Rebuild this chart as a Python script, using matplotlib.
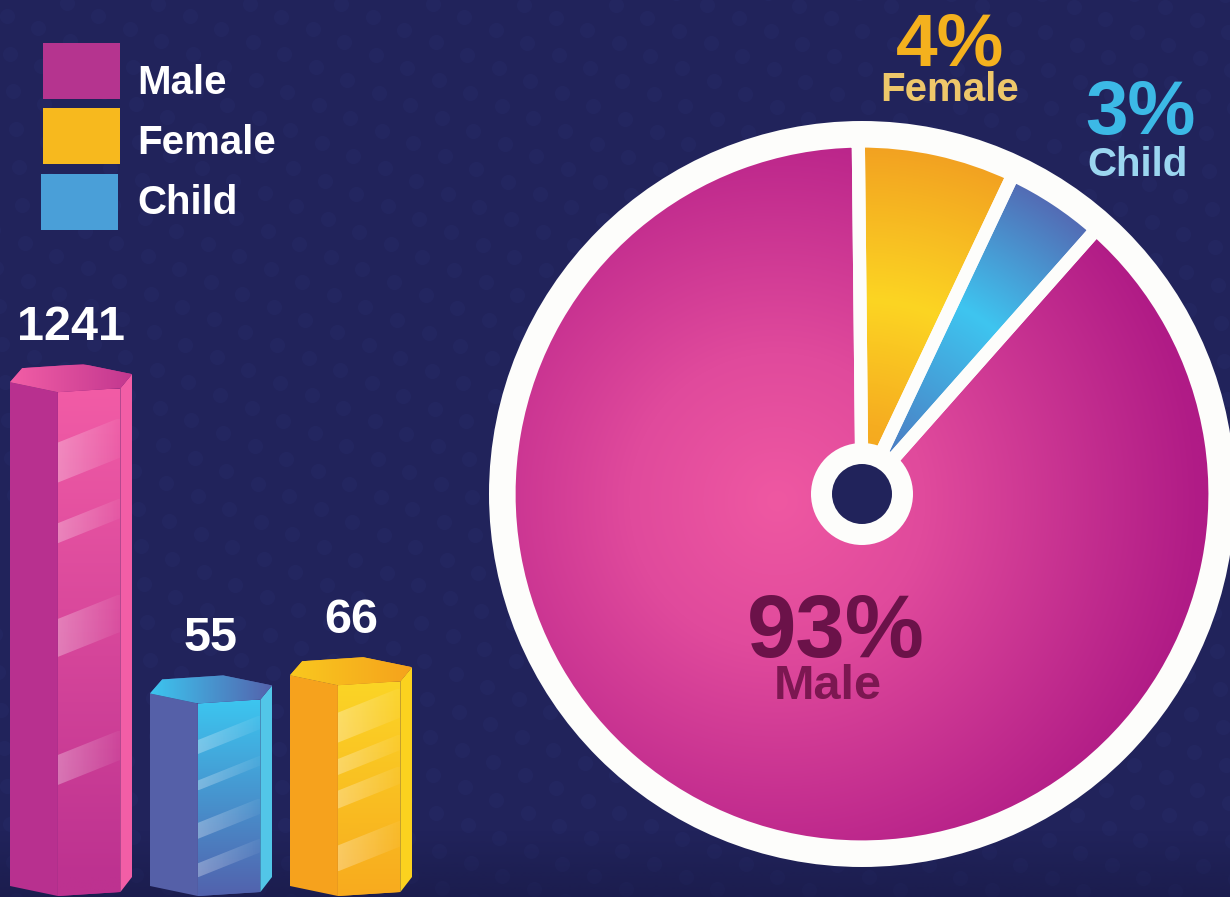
import numpy as np
import matplotlib
matplotlib.use("Agg")
import matplotlib.pyplot as plt
from matplotlib.patches import Polygon, Circle, Rectangle, Wedge
from matplotlib.colors import to_rgb

# ---------------- data ----------------
categories = ["Male", "Female", "Child"]
counts = [1241, 66, 55]
pct_labels = ["93%", "4%", "3%"]
pie_shares = [88.3, 7.2, 4.5]          # wedge sizes as drawn in the picture
bar_order = ["Male", "Child", "Female"]  # left-to-right order of the bars
legend_colors = ["#b5348f", "#f7b91e", "#4a9fd8"]

# ---------------- styles ----------------
W, H, DPI = 1230, 897, 100
BG = "#21235b"
WHITE = "#fdfdfb"
FONT = ["Liberation Sans", "DejaVu Sans"]

bar_styles = {
    "Male": dict(left="#b8308f", front=("#f25ca6", "#bd3290"), right="#f25ea6",
                 top=("#f25ea6", "#c2378f"),
                 stripes=[(0.10, 40), (0.26, 20), (0.45, 38), (0.72, 30)]),
    "Child": dict(left="#5560a8", front=("#3cc6f0", "#5262ad"), right="#52c6e8",
                  top=("#3cc6f0", "#5462ac"),
                  stripes=[(0.19, 14), (0.40, 10), (0.62, 16), (0.83, 14)]),
    "Female": dict(left="#f6a21d", front=("#fbd526", "#f8ab1e"), right="#fbd21f",
                   top=("#f9c81f", "#f5a21c"),
                   stripes=[(0.13, 30), (0.35, 16), (0.50, 18), (0.76, 26)]),
}
pie_text_colors = {
    "Male": ("#6b1249", "#7c1751"),
    "Female": ("#f4b11e", "#eec76a"),
    "Child": ("#3cb9e6", "#9bd6f0"),
}

fig = plt.figure(figsize=(W / DPI, H / DPI), dpi=DPI, facecolor=BG)


def fx(px):
    return px / W


def fy(py):
    return 1 - py / H


# ---------------- background ----------------
ax_bg = fig.add_axes([0, 0, 1, 1], zorder=0)
ax_bg.set_xlim(0, W)
ax_bg.set_ylim(H, 0)
ax_bg.axis("off")

gx, gy = np.meshgrid(np.arange(-600, W + 600, 34.0), np.arange(-600, H + 600, 34.0))
gx = gx + (np.arange(gx.shape[0])[:, None] % 2) * 17
th = np.deg2rad(22)
X = gx * np.cos(th) - gy * np.sin(th)
Y = gx * np.sin(th) + gy * np.cos(th)
m = (X > -20) & (X < W + 20) & (Y > -20) & (Y < H + 20)
ax_bg.scatter(X[m], Y[m], s=120, color="#2b3172", alpha=0.22, linewidths=0, zorder=0)

shade = np.zeros((64, 2, 4))
shade[..., :3] = to_rgb("#15163f")
shade[..., 3] = np.linspace(0, 0.45, 64)[:, None]
ax_bg.imshow(shade, extent=(0, W, H, 830), origin="upper", aspect="auto",
             interpolation="bilinear", zorder=0.5)

# ---------------- legend ----------------
for i, (cat, col) in enumerate(zip(categories, legend_colors)):
    y0 = 43 + i * 65.5
    ax_bg.add_patch(Rectangle((43 - (i == 2) * 2, y0), 77, 56, facecolor=col,
                              edgecolor="none", zorder=2))
    ax_bg.text(137, 94 + i * 60, cat, fontsize=29, fontweight="bold", color="white",
               family=FONT, ha="left", va="baseline", zorder=3)

# ---------------- bars (hexagonal prisms on a log scale) ----------------
base_px = 896
px_per_decade = 230.0
ylo, yhi = 8, 2000
ax_h = px_per_decade * np.log10(yhi / ylo)
ax_bar = fig.add_axes([0, fy(base_px), 420 / W, ax_h / H], zorder=1)
ax_bar.set_yscale("log")
ax_bar.set_xlim(-71 / 140, (420 - 71) / 140)
ax_bar.set_ylim(ylo, yhi)
ax_bar.set_autoscale_on(False)
ax_bar.axis("off")

value_of = dict(zip(categories, counts))
bw = 122 / 140
fFL, fFR = 0.393, 0.905


def to_data(x, v, dy_px=0.0, dx_px=0.0):
    Xd, Yd = ax_bar.transData.transform((x, v))
    return ax_bar.transData.inverted().transform((Xd + dx_px, Yd + dy_px))


def grad_poly(ax, verts, c0, c1, direction="v", z=2):
    verts = np.asarray(verts)
    poly = Polygon(verts, closed=True, facecolor=c1, edgecolor="none", zorder=z)
    ax.add_patch(poly)
    n = 400
    a0, a1 = np.array(to_rgb(c0)), np.array(to_rgb(c1))
    x0, x1 = verts[:, 0].min(), verts[:, 0].max()
    y0, y1 = verts[:, 1].min(), verts[:, 1].max()
    if direction == "v":
        rows = y1 - (np.arange(n) + 0.5) * (y1 - y0) / n
        d = ax.transData.transform(np.column_stack([np.full(n, x0), rows]))[:, 1]
        t = (d.max() - d) / max(d.max() - d.min(), 1e-9)
        arr = (a0 + (a1 - a0) * t[:, None])[:, None, :]
    else:
        t = np.linspace(0, 1, n)
        arr = (a0 + (a1 - a0) * t[:, None])[None, :, :]
    im = ax.imshow(arr, extent=(x0, x1, y0, y1), origin="upper", aspect="auto",
                   interpolation="bilinear", zorder=z + 0.1)
    im.set_clip_path(poly)
    return poly


for i, cat in enumerate(bar_order):
    v = value_of[cat]
    st = bar_styles[cat]
    xl = i - bw / 2

    def xa(f):
        return xl + f * bw

    def top(f, dy):
        return to_data(xa(f), v, dy)

    def bot(f, dy):
        return to_data(xa(f), ylo, dy)

    left = [top(0, 10), top(fFL, 0), bot(fFL, 0), bot(0, 10)]
    front = [top(fFL, 0), top(fFR, 4), bot(fFR, 4), bot(fFL, 0)]
    right = [top(fFR, 4), top(1, 18), bot(1, 19), bot(fFR, 4)]
    hexa = [top(0, 10), top(0.1, 24), top(0.6, 28), top(1, 18), top(fFR, 4), top(fFL, 0)]

    ax_bar.add_patch(Polygon(left, closed=True, facecolor=st["left"], edgecolor="none", zorder=2))
    grad_poly(ax_bar, front, st["front"][0], st["front"][1], "v", z=2)
    ax_bar.add_patch(Polygon(right, closed=True, facecolor=st["right"], edgecolor="none", zorder=2))
    grad_poly(ax_bar, hexa, st["top"][0], st["top"][1], "h", z=3)

    # glossy diagonal highlight stripes on the front face
    XL, YT = ax_bar.transData.transform((xa(fFL), v))
    XR, YB = ax_bar.transData.transform((xa(fFR), ylo))
    rise = 0.40 * (XR - XL)
    for frac, hpx in st["stripes"]:
        ya = YT - frac * (YT - YB)
        disp = [(XL, ya), (XL, ya - hpx), (XR, ya - hpx + rise), (XR, ya + rise)]
        dverts = ax_bar.transData.inverted().transform(disp)
        sp = Polygon(dverts, closed=True, facecolor="none", edgecolor="none", zorder=4)
        ax_bar.add_patch(sp)
        g = np.ones((2, 200, 4))
        g[..., 3] = np.linspace(0.30, 0.04, 200)[None, :]
        im = ax_bar.imshow(g, extent=(dverts[:, 0].min(), dverts[:, 0].max(),
                                      dverts[:, 1].min(), dverts[:, 1].max()),
                           origin="upper", aspect="auto", interpolation="bilinear", zorder=4)
        im.set_clip_path(sp)

    ax_bar.annotate(f"{v}", xy=(i, v), xytext=(0, 52 * 72 / DPI), textcoords="offset points",
                    ha="center", va="baseline", fontsize=35, fontweight="bold",
                    color="white", family=FONT, annotation_clip=False, zorder=5)

ax_bar.set_xlim(-71 / 140, (420 - 71) / 140)
ax_bar.set_ylim(ylo, yhi)

# ---------------- pie ----------------
cx, cy = 862, 494
Rc = 353.0
half = 1.2 * Rc
ax_pie = fig.add_axes([fx(cx - half), fy(cy + half), 2 * half / W, 2 * half / H], zorder=1)
pie_order = [1, 2, 0]  # Female, Child, Male clockwise from 12 o'clock
base_cols = {"Male": "#c8288f", "Female": "#f8bf20", "Child": "#45a8e0"}
wedges, _ = ax_pie.pie([pie_shares[k] for k in pie_order], startangle=90.6,
                       counterclock=False, radius=1,
                       colors=[base_cols[categories[k]] for k in pie_order],
                       wedgeprops=dict(linewidth=0, zorder=2))
ax_pie.set_xlim(-1.2, 1.2)
ax_pie.set_ylim(-1.2, 1.2)
ax_pie.set_aspect("equal")
ax_pie.axis("off")
ax_pie.add_patch(Circle((0, 0), 373 / Rc, facecolor=WHITE, edgecolor="none", zorder=1))

N = 700
gxs = np.linspace(-1, 1, N)
GX, GY = np.meshgrid(gxs, gxs[::-1])
R0 = np.hypot(GX, GY)


def ramp(r, stops, cols):
    rgb = np.array([to_rgb(c) for c in cols])
    return np.stack([np.interp(r, stops, rgb[:, j]) for j in range(3)], axis=-1)


grads = {
    "Male": ramp(np.hypot(GX + 0.24, GY + 0.02) / 1.2, [0, 0.35, 1.0],
                 ["#ef58a2", "#e04a9c", "#b01b86"]),
    "Female": ramp(R0, [0.0, 0.2, 0.55, 1.0], ["#f5a21e", "#f6ad20", "#fcd523", "#f2a021"]),
    "Child": ramp(R0, [0.0, 0.2, 0.6, 1.0], ["#5068b5", "#4a86c8", "#3ec5f0", "#5468b2"]),
}
for w, k in zip(wedges, pie_order):
    im = ax_pie.imshow(grads[categories[k]], extent=(-1, 1, -1, 1), origin="upper",
                       interpolation="bilinear", zorder=2.5)
    im.set_clip_path(w)
    ax_pie.add_patch(Wedge(w.center, w.r, w.theta1, w.theta2, facecolor="none",
                           edgecolor=WHITE, linewidth=9.5, zorder=4))
ax_pie.set_xlim(-1.2, 1.2)
ax_pie.set_ylim(-1.2, 1.2)
ax_pie.add_patch(Circle((0, 0), 51 / Rc, facecolor=WHITE, edgecolor="none", zorder=6))
ax_pie.add_patch(Circle((0, 0), 30 / Rc, facecolor=BG, edgecolor="none", zorder=7))

# ---------------- pie labels (layer above the pie) ----------------
ax_lbl = fig.add_axes([0, 0, 1, 1], zorder=3)
ax_lbl.set_xlim(0, W)
ax_lbl.set_ylim(H, 0)
ax_lbl.axis("off")
ax_lbl.patch.set_alpha(0)

label_layout = {
    "Male": ((836, 657, 64), (828, 699, 35)),
    "Female": ((950, 65, 54), (950, 101, 29)),
    "Child": ((1140, 134, 55), (1138, 176, 29)),
}
for cat, pl in zip(categories, pct_labels):
    (x1, y1, s1), (x2, y2, s2) = label_layout[cat]
    c1, c2 = pie_text_colors[cat]
    ax_lbl.text(x1, y1, pl, fontsize=s1, fontweight="bold", color=c1, family=FONT,
                ha="center", va="baseline", zorder=10)
    ax_lbl.text(x2, y2, cat, fontsize=s2, fontweight="bold", color=c2, family=FONT,
                ha="center", va="baseline", zorder=10)

fig.savefig("out.png", dpi=DPI, facecolor=BG)
